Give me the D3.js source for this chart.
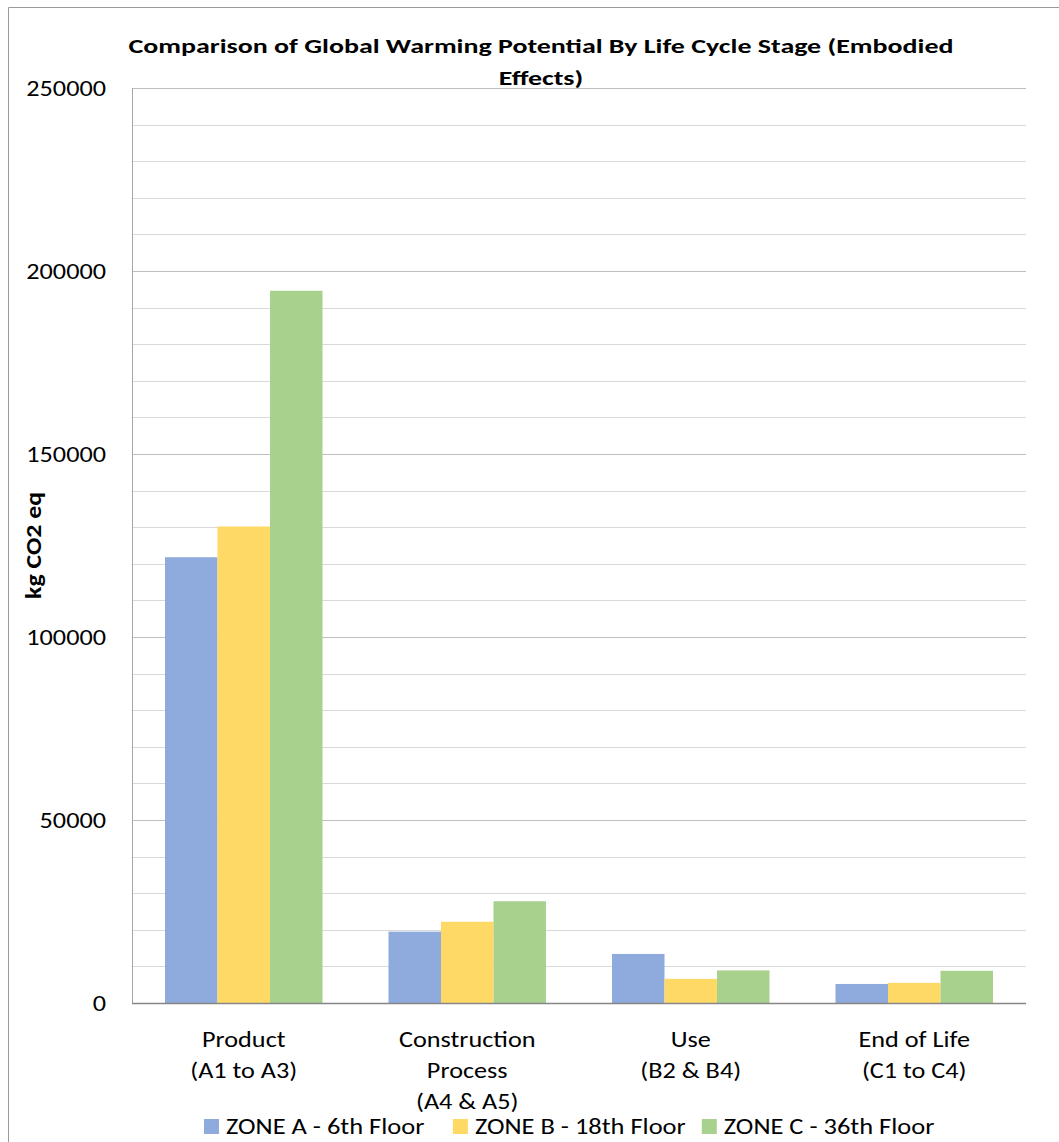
<!DOCTYPE html>
<html>
<head>
<meta charset="utf-8">
<script src="https://cdn.jsdelivr.net/npm/d3@7"></script>
<style>
  body { margin: 0; background: #fff; }
  svg text { font-family: Carlito, Calibri, Lato, sans-serif; fill: #000; }
</style>
</head>
<body>
<svg></svg>
<script>
var width = 1059;
var height = 1142;

// data
var categories = [['Product', '(A1 to A3)'], ['Construction', 'Process', '(A4 & A5)'], ['Use', '(B2 & B4)'], ['End of Life', '(C1 to C4)']];
var series = ['ZONE A - 6th Floor', 'ZONE B - 18th Floor', 'ZONE C - 36th Floor'];
var zoneA = [121800, 19500, 13400, 5200];
var zoneB = [130200, 22200, 6600, 5500];
var zoneC = [194600, 27800, 8900, 8800];
var colors = ['#8FAADC', '#FFD966', '#A9D18E'];
var majorTicks = [0, 50000, 100000, 150000, 200000, 250000];
var minorStep = 10000;

var margin = {top: 88, right: 33, bottom: 139, left: 132};
var plotW = width - margin.left - margin.right;
var plotH = height - margin.top - margin.bottom;

// the source font is wider than Lato, so widen glyphs a little
function stretch(sel, k) {
    sel.each(function() {
        var len = this.getComputedTextLength();
        d3.select(this)
            .attr('textLength', len * k)
            .attr('lengthAdjust', 'spacingAndGlyphs');
    });
}

var svg = d3.select('svg')
            .attr('width', width)
            .attr('height', height);

// chart border (cropped at right and bottom in the source)
svg.append('path')
    .attr('d', `M8.5,${height} V7.5 H${width}`)
    .attr('fill', 'none')
    .attr('stroke', '#9a9a9a')
    .attr('stroke-width', 1);

var g = svg.append('g')
    .attr('transform', `translate(${margin.left}, ${margin.top})`);

var y = d3.scaleLinear()
    .domain([0, 250000])
    .range([plotH, 0]);

var x = d3.scaleBand()
    .domain(d3.range(categories.length))
    .range([0, plotW])
    .paddingInner(0.2953)
    .paddingOuter(0.2953 / 2);

var xs = d3.scaleBand()
    .domain(d3.range(series.length))
    .range([0, x.bandwidth()]);

//Gridlines
g.selectAll('.minor')
    .data(d3.range(minorStep, 250001, minorStep).filter(v => v % 50000 !== 0))
    .enter()
    .append('line')
        .attr('x1', 0)
        .attr('x2', plotW)
        .attr('y1', d => Math.round(y(d)) + 0.5)
        .attr('y2', d => Math.round(y(d)) + 0.5)
        .attr('stroke', '#d9d9d9')
        .attr('stroke-width', 1);

g.selectAll('.major')
    .data(majorTicks.slice(1))
    .enter()
    .append('line')
        .attr('x1', 0)
        .attr('x2', plotW)
        .attr('y1', d => Math.round(y(d)) + 0.5)
        .attr('y2', d => Math.round(y(d)) + 0.5)
        .attr('stroke', '#bfbfbf')
        .attr('stroke-width', 1);

//Bars
var values = [zoneA, zoneB, zoneC];
values.forEach((vals, s) => {
    g.selectAll('.bar' + s)
        .data(vals)
        .enter()
        .append('rect')
            .attr('x', (d, i) => x(i) + xs(s))
            .attr('width', xs.bandwidth())
            .attr('y', d => y(d))
            .attr('height', d => plotH - y(d))
            .attr('fill', colors[s]);
});

//Axis lines
g.append('line')
    .attr('x1', 0.5).attr('x2', 0.5)
    .attr('y1', 0).attr('y2', plotH)
    .attr('stroke', '#a6a6a6');
g.append('line')
    .attr('x1', 0).attr('x2', plotW)
    .attr('y1', plotH + 0.5).attr('y2', plotH + 0.5)
    .attr('stroke', '#868686')
    .attr('stroke-width', 1.5);

//Y axis labels
var yAxis = d3.axisLeft(y)
    .tickValues(majorTicks)
    .tickSize(0)
    .tickPadding(26)
    .tickFormat(d3.format('d'));
var ya = g.append('g').call(yAxis);
ya.select('.domain').remove();
ya.selectAll('text')
    .style('font-size', '23px')
    .attr('fill', '#000')
    .call(stretch, 1.14);

//Category labels
categories.forEach((lines, i) => {
    lines.forEach((ln, j) => {
        g.append('text')
            .attr('text-anchor', 'middle')
            .style('font-size', '23px')
            .attr('x', x(i) + x.bandwidth() / 2)
            .attr('y', plotH + 44 + j * 31)
            .text(ln)
            .call(stretch, 1.14);
    });
});

//Y axis title
svg.append('text')
    .attr('transform', `translate(41, ${margin.top + plotH / 2}) rotate(-90)`)
    .attr('text-anchor', 'middle')
    .style('font-size', '23px')
    .style('font-weight', 'bold')
    .text('kg CO2 eq')
    .call(stretch, 1.12);

//Title
var titleLines = ['Comparison of Global Warming Potential By Life Cycle Stage (Embodied', 'Effects)'];
titleLines.forEach((ln, j) => {
    svg.append('text')
        .attr('text-anchor', 'middle')
        .attr('x', 541)
        .attr('y', 53 + j * 32)
        .style('font-size', '21px')
        .style('font-weight', 'bold')
        .text(ln)
        .call(stretch, 1.33);
});

//Legend (equal width slots, like Excel)
var legend = svg.append('g');
var items = legend.selectAll('.item')
    .data(series)
    .enter()
    .append('g');
items.append('rect')
    .attr('width', 15)
    .attr('height', 15)
    .attr('y', -15)
    .attr('fill', (d, i) => colors[i]);
items.append('text')
    .attr('x', 22)
    .attr('y', 0)
    .style('font-size', '23px')
    .text(d => d)
    .call(stretch, 1.15);
var maxW = 0;
items.each(function() {
    maxW = Math.max(maxW, 22 + this.querySelector('text').textLength.baseVal.value);
});
var slot = maxW + 16;
items.attr('transform', (d, i) => `translate(${204 + i * slot}, 1134)`);
</script>
</body>
</html>
